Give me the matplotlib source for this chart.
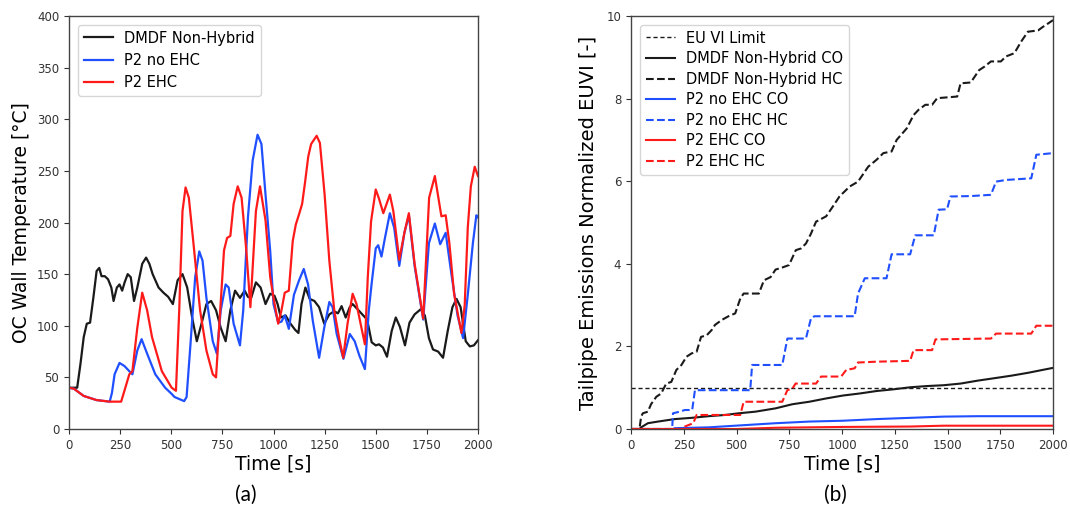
import matplotlib
matplotlib.use("Agg")
import matplotlib.pyplot as plt
import numpy as np

# ---------------- data: (a) OC wall temperature ----------------
TICKS_T = [0, 250, 500, 750, 1000, 1250, 1500, 1750, 2000]
TICKS_TEMP = [0, 50, 100, 150, 200, 250, 300, 350, 400]
TICKS_EM = [0, 2, 4, 6, 8, 10]

TEMP_DMDF = [(0,40),(40,40),(56,63),(72,89),(87,102),(103,103),(119,127),(135,153),(148,156),(159,148),
             (175,148),(191,145),(207,137),(218,124),(234,137),(247,140),(260,134),(272,142),(287,150),
             (302,147),(318,124),(334,137),(358,160),(377,166),(393,160),(409,150),(438,137),(462,132),
             (485,128),(508,121),(531,144),(555,150),(578,137),(602,108),(625,85),(648,102),(672,121),
             (695,124),(719,115),(742,98),(766,85),(789,115),(812,134),(836,127),(859,134),(875,128),
             (891,127),(914,142),(937,137),(961,121),(984,131),(1005,129),(1020,121),(1036,108),
             (1059,110),(1083,102),(1106,96),(1122,93),(1137,121),(1156,137),(1177,126),(1200,124),
             (1223,118),(1248,102),(1273,111),(1297,114),(1315,112),(1333,119),(1353,108),(1373,118),
             (1387,121),(1411,116),(1434,111),(1458,106),(1480,84),(1500,81),(1516,82),(1535,79),
             (1555,70),(1578,95),(1598,108),(1618,99),(1643,81),(1665,103),(1690,111),(1720,116),
             (1740,110),(1760,88),(1780,77),(1805,75),(1829,69),(1852,95),(1875,118),(1895,126),
             (1915,118),(1940,85),(1960,80),(1980,81),(2000,86)]

TEMP_NO_EHC = [(0,40),(24,39),(72,32),(135,28),(199,26.5),(210,35),(223,53),(247,64),(271,61),(295,56),
               (310,53),(334,76),(355,87),(382,73),(422,53),(470,40),(502,34),(516,31),(563,27),(575,31),
               (594,82),(617,147),(637,172),(653,163),(672,127),(703,85),(723,73),(742,115),(766,140),
               (781,137),(805,102),(836,81),(852,115),(875,205),(898,260),(922,285),(941,276),(961,227),
               (984,172),(1000,121),(1023,103),(1039,104),(1055,110),(1075,97),(1100,130),(1125,144),
               (1148,155),(1169,140),(1192,105),(1223,69),(1248,98),(1273,123),(1289,118),(1309,92),
               (1342,68),(1373,92),(1397,85),(1420,71),(1447,58),(1466,115),(1480,141),(1500,175),
               (1512,178),(1528,167),(1545,185),(1569,209),(1590,195),(1615,158),(1640,190),(1662,207),
               (1690,158),(1732,106),(1760,180),(1789,199),(1815,179),(1842,190),(1870,150),(1900,110),
               (1927,88),(1950,130),(1975,180),(1992,207),(2000,205)]

TEMP_EHC = [(0,40),(24,39),(72,32),(135,28),(199,26.5),(255,26.5),(271,37),(295,53),(310,56),(334,98),
            (358,132),(382,115),(406,89),(454,56),(502,40),(523,37),(539,115),(555,211),(570,234),
            (586,224),(609,179),(641,115),(672,76),(703,53),(719,50),(734,98),(758,173),(773,185),
            (789,187),(805,218),(825,235),(844,224),(867,173),(887,118),(914,211),(934,235),(961,202),
            (984,147),(1000,127),(1023,102),(1039,115),(1055,132),(1075,134),(1094,182),(1109,198),
            (1125,208),(1140,218),(1155,240),(1170,264),(1184,276),(1211,284),(1227,277),(1250,227),
            (1273,163),(1297,115),(1320,89),(1341,69),(1362,102),(1387,131),(1406,121),(1430,98),
            (1447,82),(1461,147),(1477,201),(1500,232),(1516,223),(1537,209),(1569,227),(1586,211),
            (1615,164),(1640,190),(1662,209),(1690,160),(1732,107),(1761,224),(1789,245),(1821,206),
            (1842,207),(1860,180),(1883,131),(1919,93),(1935,120),(1950,195),(1965,235),(1984,254),
            (2000,245)]

# ---------------- data: (b) normalized tailpipe emissions ----------------
EU_VI_LIMIT = 1.0

CO_DMDF = [(0,0),(40,0),(48,0.04),(80,0.14),(128,0.18),(207,0.24),(287,0.27),(367,0.31),(446,0.34),
           (510,0.38),(590,0.42),(685,0.5),(765,0.6),(845,0.66),(925,0.74),(1004,0.81),(1084,0.86),
           (1164,0.92),(1243,0.96),(1323,1.01),(1403,1.04),(1482,1.06),(1562,1.1),(1642,1.17),
           (1722,1.23),(1801,1.29),(1881,1.36),(1960,1.44),(2000,1.48)]

HC_DMDF = [(0,0),(40,0),(48,0.3),(56,0.38),(80,0.42),(95,0.6),(120,0.78),(143,0.86),(167,1.1),(191,1.14),
           (215,1.43),(239,1.55),(263,1.75),(287,1.83),(311,1.87),(332,2.23),(359,2.27),(383,2.4),
           (398,2.52),(430,2.64),(462,2.73),(494,2.8),(518,3.16),(534,3.28),(606,3.28),(630,3.6),
           (662,3.68),(685,3.86),(717,3.91),(749,3.97),(781,4.33),(805,4.37),(829,4.49),(853,4.73),
           (877,5.02),(925,5.15),(957,5.39),(988,5.63),(1036,5.87),(1076,5.99),(1124,6.35),(1164,6.52),
           (1196,6.68),(1235,6.72),(1259,7.0),(1307,7.28),(1339,7.6),(1363,7.73),(1395,7.85),(1427,7.85),
           (1451,8.01),(1546,8.05),(1562,8.37),(1610,8.39),(1650,8.69),(1674,8.77),(1706,8.9),(1753,8.9),
           (1777,9.02),(1817,9.1),(1849,9.38),(1881,9.62),(1929,9.65),(1953,9.74),(1977,9.82),(2000,9.9)]

CO_NO_EHC = [(0,0),(200,0),(207,0.02),(367,0.04),(526,0.09),(685,0.14),(845,0.18),(1004,0.2),
             (1164,0.24),(1323,0.27),(1482,0.3),(1642,0.31),(2000,0.31)]

HC_NO_EHC = [(0,0),(195,0),(199,0.38),(231,0.42),(255,0.46),(290,0.46),(303,0.94),(565,0.94),(574,1.55),
             (717,1.55),(741,2.19),(829,2.19),(853,2.68),(869,2.73),(1060,2.73),(1076,3.28),(1108,3.65),
             (1211,3.65),(1235,4.23),(1323,4.23),(1347,4.69),(1435,4.69),(1458,5.31),(1498,5.32),
             (1514,5.63),(1610,5.64),(1706,5.67),(1730,5.99),(1777,6.03),(1897,6.07),(1921,6.64),
             (2000,6.68)]

CO_EHC = [(0,0),(500,0),(685,0.03),(1004,0.05),(1323,0.06),(1482,0.08),(2000,0.08)]

HC_EHC = [(0,0),(250,0),(255,0.06),(295,0.14),(311,0.34),(518,0.34),(534,0.66),(717,0.66),(741,0.94),
          (765,0.98),(780,1.1),(877,1.1),(901,1.27),(996,1.27),(1020,1.43),(1060,1.47),(1076,1.61),
          (1164,1.63),(1323,1.65),(1339,1.91),(1427,1.91),(1443,2.17),(1706,2.19),(1730,2.31),
          (1897,2.31),(1921,2.5),(2000,2.5)]

BLACK = "#1a1a1a"
BLUE = "#1f4fff"
RED = "#ff1a1a"


def xy(pairs):
    a = np.array(pairs, dtype=float)
    return a[:, 0], a[:, 1]


plt.rcParams["font.family"] = ["DejaVu Sans"]
fig = plt.figure(figsize=(10.70, 5.16), dpi=100)
ax1 = fig.add_axes([69 / 1070, 1 - 429 / 516, 409 / 1070, 413 / 516])
ax2 = fig.add_axes([631 / 1070, 1 - 429 / 516, 422 / 1070, 413 / 516])

for ax in (ax1, ax2):
    for s in ax.spines.values():
        s.set_color("#444444")
        s.set_linewidth(1.0)
    ax.tick_params(colors="#333333", labelsize=8.5, length=3.5, width=0.8)

# (a)
lw = 1.6
ax1.plot(*xy(TEMP_DMDF), color=BLACK, lw=lw, label="DMDF Non-Hybrid")
ax1.plot(*xy(TEMP_NO_EHC), color=BLUE, lw=lw, label="P2 no EHC")
ax1.plot(*xy(TEMP_EHC), color=RED, lw=lw, label="P2 EHC")
ax1.set_xlim(0, 2000)
ax1.set_ylim(0, 400)
ax1.set_xticks(TICKS_T)
ax1.set_yticks(TICKS_TEMP)
ax1.set_xlabel("Time [s]", fontsize=13.5, labelpad=2)
ax1.set_ylabel("OC Wall Temperature [°C]", fontsize=13.5, labelpad=4)
ax1.legend(loc="upper left", fontsize=10.5, handlelength=2.0, borderaxespad=0.6)

# (b)
ax2.axhline(EU_VI_LIMIT, color=BLACK, lw=1.0, ls=(0, (3, 2)), label="EU VI Limit")
ax2.plot(*xy(CO_DMDF), color=BLACK, lw=1.5, label="DMDF Non-Hybrid CO")
ax2.plot(*xy(HC_DMDF), color=BLACK, lw=1.5, ls="--", label="DMDF Non-Hybrid HC")
ax2.plot(*xy(CO_NO_EHC), color=BLUE, lw=1.5, label="P2 no EHC CO")
ax2.plot(*xy(HC_NO_EHC), color=BLUE, lw=1.5, ls="--", label="P2 no EHC HC")
ax2.plot(*xy(CO_EHC), color=RED, lw=1.5, label="P2 EHC CO")
ax2.plot(*xy(HC_EHC), color=RED, lw=1.5, ls="--", label="P2 EHC HC")
ax2.set_xlim(0, 2000)
ax2.set_ylim(0, 10)
ax2.set_xticks(TICKS_T)
ax2.set_yticks(TICKS_EM)
ax2.set_xlabel("Time [s]", fontsize=13.5, labelpad=2)
ax2.set_ylabel("Tailpipe Emissions Normalized EUVI [-]", fontsize=14, labelpad=6)
ax2.legend(loc="upper left", fontsize=10.5, handlelength=2.0, borderaxespad=0.6,
           labelspacing=0.38)

fig.text(246 / 1070, 1 - 495 / 516, "(a)", ha="center", va="center", fontsize=15,
         family=["Lato", "DejaVu Sans"])
fig.text(835 / 1070, 1 - 495 / 516, "(b)", ha="center", va="center", fontsize=15,
         family=["Lato", "DejaVu Sans"])

fig.savefig("out.png", dpi=100)
